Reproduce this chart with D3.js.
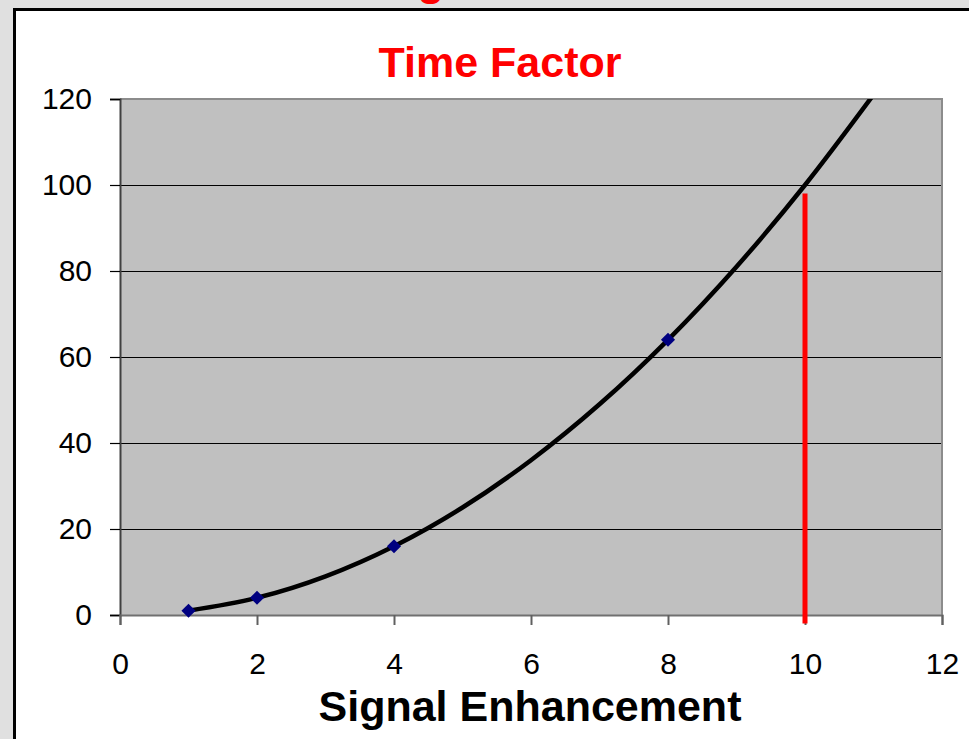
<!DOCTYPE html>
<html>
<head>
<meta charset="utf-8">
<script src="https://cdn.jsdelivr.net/npm/d3@7"></script>
<style>
  html, body { margin: 0; padding: 0; background: #e0e0e0; }
  svg { display: block; font-family: "Liberation Sans", Arial, sans-serif; }
</style>
</head>
<body>
<svg id="chart" width="969" height="739"></svg>
<script>
// Time factor grows with the square of the signal enhancement
const curveX = [1, 2, 3, 4, 5, 6, 7, 8, 9, 10, 11];
const curveY = [1, 4, 9, 16, 25, 36, 49, 64, 81, 100, 121];
// Highlighted points
const markerX = [1, 2, 4, 8];
const markerY = [1, 4, 16, 64];
// Reference line at an enhancement of 10
const refX = [10, 10];
const refY = [-2, 98];
const xTicks = [0, 2, 4, 6, 8, 10, 12];
const yTicks = [0, 20, 40, 60, 80, 100, 120];
const chartTitle = "Time Factor";
const xTitle = "Signal Enhancement";

const svg = d3.select("#chart");

// heading fragment peeking over the card
svg.append("text")
  .attr("x", 431).attr("y", -5)
  .attr("text-anchor", "middle")
  .attr("font-size", 44).attr("font-weight", "bold")
  .attr("fill", "#ff0000")
  .text("g");

// white card with a dark top/left edge
svg.append("rect")
  .attr("x", 14).attr("y", 9).attr("width", 969).attr("height", 740)
  .attr("fill", "#ffffff");
svg.append("path")
  .attr("d", "M14.5,739 V9.5 H969")
  .attr("fill", "none").attr("stroke", "#000").attr("stroke-width", 3);

const plot = { left: 120, top: 99, right: 942, bottom: 615 };

const x = d3.scaleLinear().domain([0, 12]).range([plot.left, plot.right]);
const y = d3.scaleLinear().domain([0, 120]).range([plot.bottom, plot.top]);

// plot background
svg.append("rect")
  .attr("x", plot.left).attr("y", plot.top)
  .attr("width", plot.right - plot.left).attr("height", plot.bottom - plot.top)
  .attr("fill", "#c0c0c0");

// horizontal gridlines
svg.append("g")
  .selectAll("line")
  .data(yTicks.filter(v => v > 0 && v < 120))
  .join("line")
  .attr("x1", plot.left).attr("x2", plot.right)
  .attr("y1", d => Math.round(y(d)) + 0.5).attr("y2", d => Math.round(y(d)) + 0.5)
  .attr("stroke", "#000").attr("stroke-width", 1);

// plot frame (top and right)
svg.append("path")
  .attr("d", `M${plot.left},${plot.top} H${plot.right} V${plot.bottom}`)
  .attr("fill", "none").attr("stroke", "#8c8c8c").attr("stroke-width", 2);

// y axis
const yAxis = svg.append("g")
  .attr("transform", `translate(${plot.left},0)`)
  .call(d3.axisLeft(y).tickValues(yTicks).tickSize(10).tickPadding(18).tickFormat(d3.format("d")));
yAxis.select(".domain").attr("stroke", "#404040").attr("stroke-width", 2);
yAxis.selectAll(".tick line").attr("stroke", "#000").attr("stroke-width", 1.2);
yAxis.selectAll(".tick text")
  .attr("font-size", 30).attr("fill", "#000")
  .attr("font-family", "Liberation Sans, Arial, sans-serif");

// x axis
const xAxis = svg.append("g")
  .attr("transform", `translate(0,${plot.bottom})`)
  .call(d3.axisBottom(x).tickValues(xTicks).tickSize(10).tickPadding(28).tickFormat(d3.format("d")));
xAxis.select(".domain").attr("stroke", "#707070").attr("stroke-width", 2);
xAxis.selectAll(".tick line").attr("stroke", "#606060").attr("stroke-width", 2);
xAxis.selectAll(".tick text")
  .attr("font-size", 30).attr("fill", "#000")
  .attr("font-family", "Liberation Sans, Arial, sans-serif");

// clip for the curve
svg.append("clipPath").attr("id", "plotClip")
  .append("rect")
  .attr("x", plot.left).attr("y", plot.top)
  .attr("width", plot.right - plot.left).attr("height", plot.bottom - plot.top + 20);

// reference line
svg.append("line")
  .attr("x1", x(refX[0])).attr("x2", x(refX[1]))
  .attr("y1", y(refY[0])).attr("y2", y(refY[1]))
  .attr("stroke", "#ff0000").attr("stroke-width", 5);

// squared curve
const line = d3.line()
  .x((d, i) => x(curveX[i]))
  .y(d => y(d))
  .curve(d3.curveMonotoneX);
svg.append("path")
  .attr("clip-path", "url(#plotClip)")
  .attr("d", line(curveY))
  .attr("fill", "none").attr("stroke", "#000").attr("stroke-width", 4.5)
  .attr("stroke-linejoin", "round");

// diamond markers
svg.append("g")
  .selectAll("path")
  .data(markerX.map((v, i) => [v, markerY[i]]))
  .join("path")
  .attr("d", d3.symbol(d3.symbolSquare, 100))
  .attr("transform", d => `translate(${x(d[0])},${y(d[1])}) rotate(45)`)
  .attr("fill", "#000080");

// titles
svg.append("text")
  .attr("x", 500).attr("y", 77)
  .attr("text-anchor", "middle")
  .attr("font-size", 43).attr("font-weight", "bold")
  .attr("fill", "#ff0000")
  .text(chartTitle);

svg.append("text")
  .attr("x", 530).attr("y", 721)
  .attr("text-anchor", "middle")
  .attr("font-size", 43).attr("font-weight", "bold")
  .attr("fill", "#000")
  .text(xTitle);
</script>
</body>
</html>
